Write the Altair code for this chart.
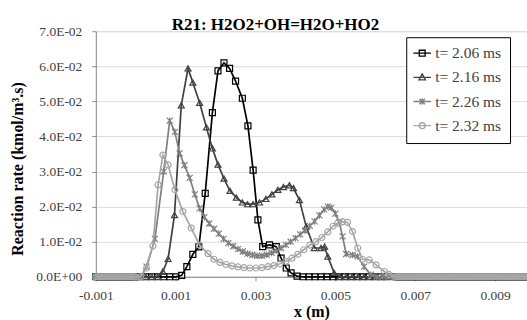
import altair as alt
import pandas as pd

TITLE = "R21: H2O2+OH=H2O+HO2"
X_TITLE = "x (m)"
Y_TITLE = "Reaction rate (kmol/m³.s)"
SERIES = ["t= 2.06 ms", "t= 2.16 ms", "t= 2.26 ms", "t= 2.32 ms"]
COLORS = ["#000000", "#404040", "#7f7f7f", "#a6a6a6"]
X_TICKS = [-0.001, 0.001, 0.003, 0.005, 0.007, 0.009]
Y_TICKS = [0.0, 0.01, 0.02, 0.03, 0.04, 0.05, 0.06, 0.07]

# dense far-field grid points where every profile is zero
FAR_LEFT_X = [-0.00100, -0.00095, -0.00090, -0.00085, -0.00080, -0.00075,
              -0.00070, -0.00065, -0.00060, -0.00055, -0.00050, -0.00045,
              -0.00040, -0.00035, -0.00030, -0.00025, -0.00020, -0.00015,
              -0.00010, -0.00005, 0.00000]
FAR_RIGHT_X = [0.00650, 0.00655, 0.00660, 0.00665, 0.00670, 0.00675, 0.00680,
               0.00685, 0.00690, 0.00695, 0.00700, 0.00705, 0.00710, 0.00715,
               0.00720, 0.00725, 0.00730, 0.00735, 0.00740, 0.00745, 0.00750,
               0.00755, 0.00760, 0.00765, 0.00770, 0.00775, 0.00780, 0.00785,
               0.00790, 0.00795, 0.00800, 0.00805, 0.00810, 0.00815, 0.00820,
               0.00825, 0.00830, 0.00835, 0.00840, 0.00845, 0.00850, 0.00855,
               0.00860, 0.00865, 0.00870, 0.00875, 0.00880, 0.00885, 0.00890,
               0.00895, 0.00900, 0.00905, 0.00910, 0.00915, 0.00920, 0.00925,
               0.00930, 0.00935, 0.00940, 0.00945, 0.00950, 0.00955, 0.00960,
               0.00965, 0.00970, 0.00975, 0.00980, 0.00985, 0.00990, 0.00995,
               0.01000]

# t = 2.06 ms
X1 = [0.00010, 0.00025, 0.00040, 0.00055, 0.00070, 0.00085, 0.00100,
      0.00115, 0.00128, 0.00143, 0.00158, 0.00174, 0.00192, 0.00206,
      0.00221, 0.00235, 0.00250, 0.00267, 0.00281, 0.00294, 0.00306,
      0.00318, 0.00335, 0.00352, 0.00364, 0.00377, 0.00389, 0.00404,
      0.00419, 0.00434, 0.00449, 0.00464, 0.00479, 0.00494, 0.00509,
      0.00524, 0.00539, 0.00554, 0.00569, 0.00584, 0.00599, 0.00614,
      0.00629]
Y1 = [0, 0, 0, 0, 0, 0, 0,
      0.0004, 0.0029, 0.0064, 0.0085, 0.0238, 0.0468, 0.0587,
      0.0610, 0.0594, 0.0558, 0.0509, 0.0430, 0.0304, 0.0162,
      0.0086, 0.0091, 0.0086, 0.0053, 0.0025, 0.0011, 0.0002,
      0, 0, 0, 0, 0, 0, 0, 0, 0, 0, 0, 0, 0, 0, 0]

# t = 2.16 ms
X2 = [0.00010, 0.00025, 0.00040, 0.00055, 0.00068, 0.00081, 0.00097,
      0.00114, 0.00131, 0.00143, 0.00160, 0.00177, 0.00192, 0.00206,
      0.00221, 0.00236, 0.00252, 0.00267, 0.00280, 0.00294, 0.00310,
      0.00326, 0.00341, 0.00356, 0.00370, 0.00385, 0.00395, 0.00410,
      0.00427, 0.00447, 0.00464, 0.00473, 0.00481, 0.00497, 0.00512,
      0.00527, 0.00542, 0.00557, 0.00572, 0.00587, 0.00602, 0.00617,
      0.00632]
Y2 = [0, 0, 0, 0, 0.0015, 0.0051, 0.0176,
      0.0489, 0.0594, 0.0554, 0.0496, 0.0426, 0.0366, 0.0320,
      0.0280, 0.0245, 0.0226, 0.0212, 0.0207, 0.0207, 0.0212,
      0.0222, 0.0235, 0.0248, 0.0256, 0.0261, 0.0253, 0.0219,
      0.0143, 0.0082, 0.0082, 0.0086, 0.0058, 0.0011, 0,
      0, 0, 0, 0, 0, 0, 0, 0]

# t = 2.26 ms
X3 = [0.00012, 0.00027, 0.00048, 0.00070, 0.00085, 0.00098, 0.00110,
      0.00122, 0.00135, 0.00148, 0.00160, 0.00172, 0.00184, 0.00196,
      0.00208, 0.00220, 0.00232, 0.00244, 0.00256, 0.00268, 0.00280,
      0.00292, 0.00304, 0.00316, 0.00328, 0.00340, 0.00352, 0.00364,
      0.00376, 0.00388, 0.00400, 0.00412, 0.00424, 0.00436, 0.00448,
      0.00460, 0.00472, 0.00481, 0.00490, 0.00500, 0.00510, 0.00518,
      0.00527, 0.00543, 0.00556, 0.00572, 0.00589, 0.00604, 0.00619,
      0.00634]
Y3 = [0, 0.0029, 0.0108, 0.0300, 0.0445, 0.0413, 0.0352,
      0.0318, 0.0282, 0.0235, 0.0195, 0.0170, 0.0152, 0.0137,
      0.0123, 0.0108, 0.0096, 0.0087, 0.0079, 0.0072, 0.0066,
      0.0062, 0.0060, 0.0060, 0.0063, 0.0068, 0.0074, 0.0082,
      0.0091, 0.0100, 0.0110, 0.0121, 0.0132, 0.0145, 0.0158,
      0.0175, 0.0192, 0.0200, 0.0197, 0.0180, 0.0155, 0.0115,
      0.0065, 0.0062, 0.0058, 0.0029, 0.0006, 0, 0,
      0]

# t = 2.32 ms
X4 = [0.00012, 0.00027, 0.00043, 0.00056, 0.00068, 0.00081, 0.00098,
      0.00118, 0.00139, 0.00160, 0.00181, 0.00196, 0.00211, 0.00226,
      0.00241, 0.00256, 0.00271, 0.00286, 0.00301, 0.00316, 0.00331,
      0.00346, 0.00361, 0.00376, 0.00391, 0.00406, 0.00421, 0.00436,
      0.00451, 0.00466, 0.00481, 0.00494, 0.00506, 0.00518, 0.00530,
      0.00543, 0.00556, 0.00568, 0.00585, 0.00602, 0.00623, 0.00635]
Y4 = [0, 0.0025, 0.0088, 0.0262, 0.0347, 0.0319, 0.0248,
      0.0186, 0.0139, 0.0090, 0.0066, 0.0050, 0.0041, 0.0035,
      0.0031, 0.0028, 0.0026, 0.0025, 0.0025, 0.0026, 0.0029,
      0.0032, 0.0037, 0.0044, 0.0053, 0.0064, 0.0077, 0.0090,
      0.0100, 0.0112, 0.0128, 0.0144, 0.0153, 0.0157, 0.0155,
      0.0129, 0.0082, 0.0050, 0.0048, 0.0034, 0.0015, 0.0006]

MARKERS = ["square", "triangle-up", "M-1,-1L1,1M-1,1L1,-1M0,-1.1L0,1.1", "circle"]
LEGEND_SYMBOLS = [
    "M-1.25,0L1.25,0M-0.42,-0.42L0.42,-0.42L0.42,0.42L-0.42,0.42Z",
    "M-1.25,0L1.25,0M0,-0.5L0.46,0.36L-0.46,0.36Z",
    "M-1.25,0L1.25,0M-0.4,-0.4L0.4,0.4M-0.4,0.4L0.4,-0.4M0,-0.48L0,0.48",
    "M-1.25,0L1.25,0M0.42,0A0.42,0.42 0 1,1 -0.42,0A0.42,0.42 0 1,1 0.42,0Z",
]

FONT = "Liberation Serif"
AXIS_GRAY = "#8c8c8c"
TEXT_GRAY = "#404040"

rows = []
for name, xs, ys in zip(SERIES, [X1, X2, X3, X4], [Y1, Y2, Y3, Y4]):
    assert len(xs) == len(ys), name
    full_x = FAR_LEFT_X + xs + FAR_RIGHT_X
    full_y = [0.0] * len(FAR_LEFT_X) + ys + [0.0] * len(FAR_RIGHT_X)
    for i, (xv, yv) in enumerate(zip(full_x, full_y)):
        rows.append({"series": name, "x": xv, "y": yv, "i": i})
df = pd.DataFrame(rows)

x_axis = alt.Axis(
    values=X_TICKS,
    labelExpr="(datum.value < 0 ? '-' : '') + format(abs(datum.value), '.3f')",
    labelFlush=False, labelOverlap=False,
    labelFont=FONT, labelFontSize=13.5, labelColor=TEXT_GRAY, labelPadding=8,
    grid=False, ticks=True, tickSize=4, tickColor=AXIS_GRAY,
    domainColor=AXIS_GRAY, domainWidth=1,
    title=X_TITLE, titleFont=FONT, titleFontSize=16, titleFontWeight="bold",
    titleColor="#000000", titleY=27, titleBaseline="top",
)
y_axis = alt.Axis(
    values=Y_TICKS, tickCount=8,
    labelExpr="datum.value == 0 ? '0.0E+00' : format(datum.value * 100, '.1f') + 'E-02'",
    labelOverlap=False, labelFlush=False,
    labelFont=FONT, labelFontSize=13.5, labelColor=TEXT_GRAY, labelPadding=10,
    grid=True, gridColor="#dcdcdc", gridWidth=1,
    ticks=True, tickSize=4, tickColor=AXIS_GRAY,
    domainColor=AXIS_GRAY, domainWidth=1,
    title=Y_TITLE, titleFont=FONT, titleFontSize=16, titleFontWeight="bold",
    titleColor="#000000", titleAngle=270, titleX=-78, titleY=137.5,
    titleAlign="center", titleBaseline="middle",
)
x_scale = alt.Scale(domain=[-0.001, 0.0098], nice=False, zero=False)
y_scale = alt.Scale(domain=[0, 0.07], nice=False)

layers = []

# legend-only layer: its points sit under the legend box, which hides them
leg_df = pd.DataFrame({"series": SERIES, "x": [0.0082] * 4, "y": [0.05] * 4})
legend = alt.Legend(
    title=None,
    orient="none", legendX=311, legendY=6,
    labelFont=FONT, labelFontSize=15.5, labelColor=TEXT_GRAY,
    labelExpr="datum.label + '\u00a0\u00a0\u00a0\u00a0\u00a0\u00a0\u00a0\u00a0'",
    symbolSize=196, symbolStrokeWidth=1.3, symbolFillColor="transparent",
    rowPadding=7.2, padding=8, strokeColor="#000000", fillColor="#ffffff",
    labelOffset=5, cornerRadius=0,
)
layers.append(
    alt.Chart(leg_df).mark_point(filled=False, size=196, opacity=1,
                                 strokeWidth=1.3).encode(
        x=alt.X("x:Q", scale=x_scale, axis=x_axis),
        y=alt.Y("y:Q", scale=y_scale, axis=y_axis),
        color=alt.Color("series:N", scale=alt.Scale(domain=SERIES, range=COLORS),
                        legend=legend),
        shape=alt.Shape("series:N", scale=alt.Scale(domain=SERIES, range=LEGEND_SYMBOLS),
                        legend=legend),
    )
)

for name, color, shape in zip(SERIES, COLORS, MARKERS):
    base = alt.Chart(df).transform_filter(alt.datum.series == name)
    layers.append(
        base.mark_line(color=color, strokeWidth=1.7).encode(
            x=alt.X("x:Q", scale=x_scale, axis=x_axis),
            y=alt.Y("y:Q", scale=y_scale, axis=y_axis),
            order="i:Q",
        )
    )
    layers.append(
        base.mark_point(shape=shape, color=color, filled=False, size=36,
                        strokeWidth=1.2, opacity=1).encode(
            x=alt.X("x:Q", scale=x_scale, axis=x_axis),
            y=alt.Y("y:Q", scale=y_scale, axis=y_axis),
        )
    )

chart = alt.layer(*layers).properties(
    width=432, height=246,
    title=alt.TitleParams(TITLE, font=FONT, fontSize=17, fontWeight="bold",
                          color="#000000", anchor="middle", dx=-36, dy=26, offset=3,
                          frame="group", baseline="alphabetic"),
    autosize=alt.AutoSizeParams(type="none"),
    padding={"left": 96, "top": 31, "right": 0, "bottom": 43},
).configure_view(
    stroke=AXIS_GRAY, strokeWidth=1
).configure_axisY(
    labelOverlap=False
).configure(background="#ffffff")

chart.save("out.html", embed_options={"renderer": "svg", "actions": False})
